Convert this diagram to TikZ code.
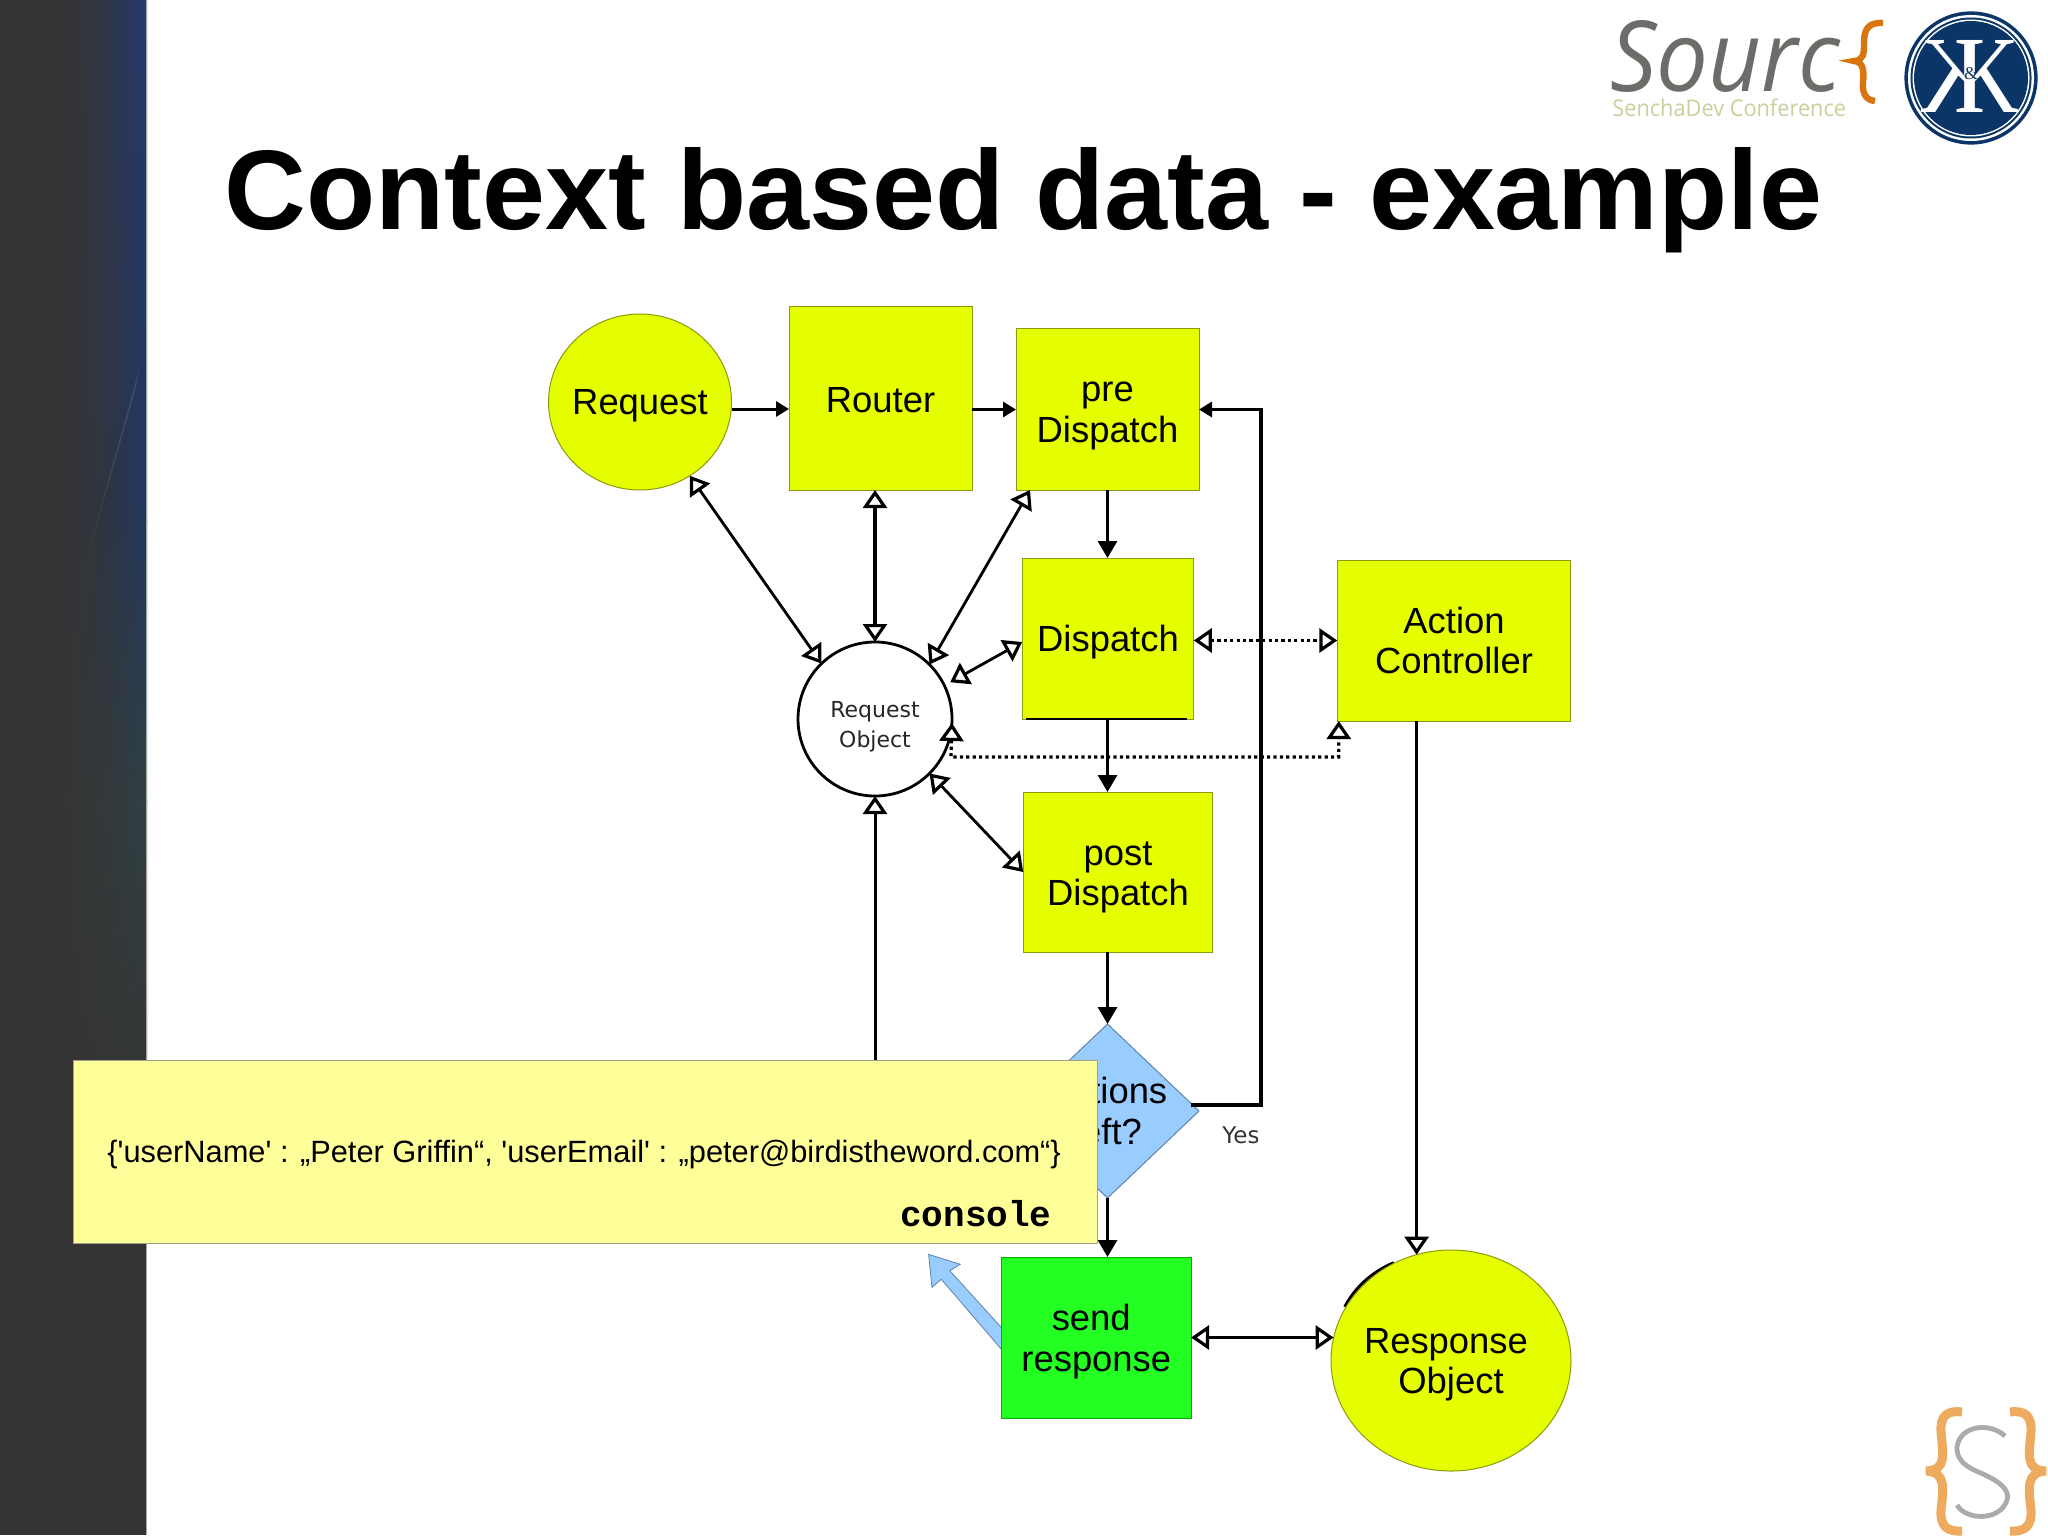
\documentclass[tikz,border=0pt]{standalone}
\usepackage{fontspec}
\usepackage{graphicx}
\usetikzlibrary{arrows.meta,shapes.geometric,calc}
\newfontfamily\lib{Liberation Sans}
\newfontfamily\mono{Liberation Mono}
\newfontfamily\vera{DejaVu Sans}
\newfontfamily\logofont{Open Sans}
\newfontfamily\kkfont{Liberation Serif}
\newcommand{\lab}{\lib\fontsize{18.2}{20.3}\selectfont}
\newcommand{\tall}[1]{\rule{0pt}{#1pt}}
\definecolor{boxyel}{HTML}{E6FF00}
\definecolor{boxline}{HTML}{8C9A10}
\definecolor{sendgreen}{HTML}{23FF23}
\definecolor{diablue}{HTML}{99CCFF}
\definecolor{dialine}{HTML}{5F84A8}
\definecolor{noteyel}{HTML}{FFFF99}
\definecolor{noteline}{HTML}{A0A08A}
\definecolor{sbdark}{HTML}{343434}
\definecolor{sbtop}{HTML}{23386E}
\definecolor{sbmid}{HTML}{22365E}
\definecolor{sblow}{HTML}{2F4145}
\definecolor{navy}{HTML}{0B3567}
\definecolor{logogray}{HTML}{6B6D69}
\definecolor{logogreen}{HTML}{C6D29C}
\definecolor{logoor}{HTML}{D9750F}
\definecolor{slogoor}{HTML}{EEAA5E}
\definecolor{slogogr}{HTML}{ABABAB}
\pgfdeclarelayer{front}
\pgfsetlayers{main,front}
\tikzset{
  opn/.tip={Triangle[fill=white,length=9pt,width=12pt,line width=1.6pt]},
  sol/.tip={Triangle[length=8.5pt,width=9.5pt]},
  solsmall/.tip={Triangle[length=6.5pt,width=7.5pt]},
  bx/.style={draw=boxline,fill=boxyel,line width=.5pt,inner sep=0pt,outer sep=0pt,font=\lab,align=center},
  flow/.style={line width=1.6pt,-{sol}},
  dbl/.style={line width=1.4pt,{opn}-{opn}},
  dotd/.style={line width=1.6pt,dash pattern=on 1.6pt off 1.6pt,{opn}-{opn}},
}
\begin{document}
\begin{tikzpicture}[x=0.5pt,y=-0.5pt]
\useasboundingbox (0,0) rectangle (2048,1535);
\fill[white] (0,0) rectangle (2048,1535);
% sidebar
\fill[sbdark] (0,0) rectangle (146,1535);
\foreach \i in {0,...,11}{
  \pgfmathsetmacro{\xa}{50+8*\i}
  \pgfmathsetmacro{\xb}{\xa+9}
  \pgfmathtruncatemacro{\f}{100*pow((\i+0.5)/12,2)}
  \shade[top color=sbtop!\f!sbdark,bottom color=sbmid!\f!sbdark] (\xa,0) rectangle (\xb,521);
  \shade[top color=sbmid!\f!sbdark,bottom color=sblow!\f!sbdark] (\xa,520) rectangle (\xb,801);
  \shade[top color=sblow!\f!sbdark,bottom color=sbdark] (\xa,800) rectangle (\xb,1100);
}
\fill[white,opacity=.1] (140,366) -- (87,558) -- (134,395) -- cycle;
\fill[black!35] (145.5,0) rectangle (146.5,1535);
% top logo
\node[anchor=base west,inner sep=0pt,text=logogray,font=\logofont\itshape\fontsize{49}{50}\selectfont] (src) at (1610,92) {\scalebox{.94}[1]{Sourc}};
\draw[logoor,line width=3.2pt] (1883,23) .. controls (1868,22) and (1864,30) .. (1864,42) .. controls (1864,54) and (1864,60) .. (1854,61) .. controls (1864,62) and (1864,72) .. (1863,82) .. controls (1862,94) and (1866,100) .. (1875,101);
\node[anchor=base west,inner sep=0pt,text=logogreen,font=\logofont\fontsize{11.5}{12}\selectfont] (sdc) at (1612,117) {\scalebox{.945}[1]{SenchaDev Conference}};
\node[circle,fill=navy,minimum size=66.6pt,inner sep=0pt] (kk1) at (1971,78) {};
\node[circle,fill=white,minimum size=63pt,inner sep=0pt] (kk2) at (kk1) {};
\node[circle,fill=navy,minimum size=60.5pt,inner sep=0pt] (kk3) at (kk1) {};
\node[circle,fill=white,minimum size=58.5pt,inner sep=0pt] (kk4) at (kk1) {};
\node[circle,fill=navy,minimum size=57pt,inner sep=0pt] (kk5) at (kk1) {};
\node[anchor=base east,inner sep=0pt,text=white,font=\kkfont\fontsize{55}{55}\selectfont] (kl) at (1986,113) {\reflectbox{\scalebox{.82}[1]{K}}};
\node[anchor=base west,inner sep=0pt,text=white,font=\kkfont\fontsize{55}{55}\selectfont] (kr) at (1954,113) {\scalebox{.82}[1]{K}};
\node[inner sep=0pt,text=navy,font=\kkfont\fontsize{9}{9}\selectfont] (kamp) at (1971,74) {\&};
% bottom-right logo
\draw[slogoor,line width=4.5pt] (1962,1412) .. controls (1947,1410) and (1940,1416) .. (1941,1432) .. controls (1943,1455) and (1947,1470) .. (1926,1471) .. controls (1947,1472) and (1943,1490) .. (1941,1510) .. controls (1940,1526) and (1947,1532) .. (1962,1531);
\draw[slogoor,line width=4.5pt] (2010,1412) .. controls (2025,1410) and (2032,1416) .. (2031,1432) .. controls (2029,1455) and (2025,1470) .. (2046,1471) .. controls (2025,1472) and (2029,1490) .. (2031,1510) .. controls (2032,1526) and (2025,1532) .. (2010,1531);
\draw[slogogr,line width=2.4pt] (2005,1436) .. controls (1990,1422) and (1960,1425) .. (1957,1447) .. controls (1956,1465) and (1975,1470) .. (1985,1475) .. controls (2000,1482) and (2010,1490) .. (2007,1500) .. controls (2000,1522) and (1965,1520) .. (1957,1505);
% title
\node[anchor=base west,inner sep=0pt,font=\lib\bfseries\fontsize{56.6}{60}\selectfont] (title) at (224,230) {Context based data - example};
% block arrow under send response
\draw[fill=diablue,draw=dialine,line width=.4pt] (928.6,1254.3) -- (960.2,1264.3) -- (949.8,1270.7) -- (1002,1328.3) -- (1002,1350) -- (941.3,1279.3) -- (931.9,1287.3) -- cycle;
% nodes
\node[bx,ellipse,minimum width=91.5pt,minimum height=88pt] (req) at (640,402) {\makebox[0pt]{\tall{16.5}Request}};
\node[bx,minimum width=91.5pt,minimum height=91.5pt] (rou) at (880.5,398.5) {\tall{14.5}Router};
\node[bx,minimum width=91.5pt,minimum height=80.5pt] (pre) at (1107.5,409.5) {\tall{16.1}pre\\Dispatch};
\node[bx,minimum width=85.8pt,minimum height=80.5pt] (dis) at (1108,638.5) {\tall{17.2}Dispatch};
\node[bx,minimum width=116.7pt,minimum height=80.5pt] (ac) at (1454,640.5) {Action\\Controller};
\node[bx,minimum width=94.8pt,minimum height=80pt] (post) at (1118,872) {\tall{17.2}post\\Dispatch};
\node[circle,draw=black,fill=white,line width=1.4pt,minimum size=77pt,inner sep=0pt,outer sep=0pt,align=center,text=black!85,font=\vera\fontsize{11}{15}\selectfont] (ro) at (875,719) {\tall{16}Request\\Object};
\node[diamond,draw=dialine,fill=diablue,line width=.5pt,inner sep=0pt,outer sep=0pt,minimum width=91.5pt,minimum height=87pt,aspect=1.05,label={[font=\lab,align=center,name=dtx]center:{Actions\\left?}}] (dia) at (1107.5,1111) {};
\node[bx,fill=sendgreen,draw=black!30!green,minimum width=94.75pt,minimum height=80.5pt] (sen) at (1096.3,1337.5) {\tall{17.2}\mbox{send\ }\\response};
\draw[line width=1.8pt] (1345,1307) .. controls (1355,1288) and (1372,1272) .. (1394,1263);
\node[bx,ellipse,minimum width=120pt,minimum height=110.5pt] (res) at (1451,1360.5) {\makebox[0pt]{\tall{16.6}Response\ }\\\makebox[0pt]{Object}};
\draw[black,line width=.6pt] ([xshift=2]dis.south west) -- ([xshift=-3.5]dis.south east);
% note (in front of the diagram)
\begin{pgfonlayer}{front}
\node[draw=noteline,fill=noteyel,line width=.5pt,inner sep=0pt,outer sep=0pt,minimum width=512pt,minimum height=91.5pt] (note) at (585,1151.5) {};
\node[anchor=base west,inner sep=0pt,font=\lib\fontsize{15.4}{16}\selectfont] (ntx) at (107,1162) {\{'userName' : „Peter Griffin“, 'userEmail' : „peter@birdistheword.com“\}};
\node[anchor=base east,inner sep=0pt,font=\mono\bfseries\fontsize{18}{20}\selectfont] (con) at (1052,1226) {console};
\end{pgfonlayer}
% Yes label
\begin{scope}
\clip (1200,1100) rectangle (1257,1170);
\node[anchor=base west,inner sep=0pt,text=black!80,font=\vera\fontsize{11.5}{12}\selectfont] (yes) at (1222,1143) {Yes};
\end{scope}
% connectors
\draw[line width=1.5pt,-{solsmall}] (req.east |- rou.east) ++(0,10.5) coordinate (q1) -- (q1 -| rou.west);
\coordinate (prey) at (pre.west);
\draw[line width=1.5pt,-{solsmall}] (rou.east |- prey) -- (prey);
\draw[flow] (pre.south) -- (dis.north -| pre.south);
\draw[flow] (dis.south -| pre.south) -- (pre.south |- post.north);
\draw[flow] (pre.south |- post.south) -- (dia.north);
\draw[flow] (dia.south) -- (pre.south |- sen.north);
\coordinate (ds) at ([shift={(-8,-6)}]dia.east);
\coordinate (loopx) at (1261,700);
\draw[line width=1.6pt,-{solsmall}] (ds) -- (ds -| loopx) -- (loopx |- pre.east) -- (pre.east);
\draw[dbl] (req.-56) -- (ro.134);
\draw[dbl,line width=1.6pt] (ro.north |- rou.south) -- (ro.north);
\draw[dbl] ([xshift=7]pre.south west) -- (ro.45);
\draw[dbl] ([yshift=-1.75]dis.west) -- ([shift={(6,-3)}]ro.26);
\draw[dbl] (post.west) -- (ro.-45);
\draw[line width=1.5pt,-{opn}] (ro.south |- note.north) -- (ro.south);
\draw[dotd] (dis.east |- ac.west) -- (ac.west);
\coordinate (dcorner) at (951,757);
\coordinate (dup) at ([xshift=.75]ac.south west);
\draw[dotd] (ro.-3) -- (dcorner) -- (dcorner -| dup) -- (dup);
\draw[line width=1.6pt,-{opn}] (res.108 |- ac.south) -- (res.108);
\draw[dbl,line width=1.6pt] (sen.east) -- (res.169 |- sen.east);
\end{tikzpicture}
\end{document}
